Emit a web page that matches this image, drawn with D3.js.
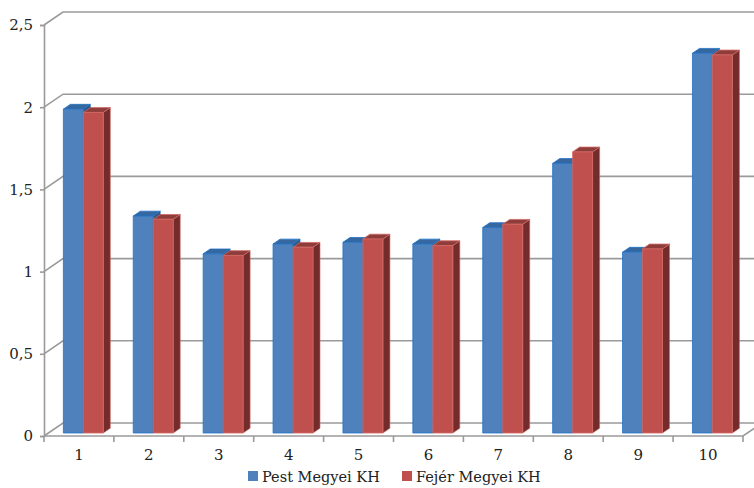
<!DOCTYPE html>
<html>
<head>
<meta charset="utf-8">
<script src="https://cdn.jsdelivr.net/npm/d3@7"></script>
<style>
  html, body { margin: 0; padding: 0; background: #fff; }
  svg { display: block; }
</style>
</head>
<body>
<svg id="chart" width="754" height="488"></svg>
<script>
// Data
const categories = ["1", "2", "3", "4", "5", "6", "7", "8", "9", "10"];
const seriesNames = ["Pest Megyei KH", "Fejér Megyei KH"];
const pestValues  = [1.97, 1.32, 1.09, 1.15, 1.16, 1.15, 1.25, 1.64, 1.10, 2.31];
const fejerValues = [1.95, 1.30, 1.08, 1.13, 1.18, 1.14, 1.27, 1.71, 1.12, 2.30];
const yTicks = [0, 0.5, 1, 1.5, 2, 2.5];
const yTickLabels = ["0", "0,5", "1", "1,5", "2", "2,5"];

const FONT = "'DejaVu Serif', 'Liberation Serif', 'Times New Roman', serif";

const svg = d3.select("#chart");

// Front plane scales
const x0 = d3.scaleBand().domain(categories).range([44, 743]).paddingInner(0).paddingOuter(0);
const x1 = d3.scaleBand().domain(seriesNames).range([0, x0.bandwidth()]).paddingOuter(0.75).paddingInner(0);
const y = d3.scaleLinear().domain([0, 2.5]).range([436, 25]);

// Depth projection: t = 0 front, t = 1 back wall
const DX = 19, DY = -13;
const P = (px, py, t) => [px + DX * t, py + DY * t];
const line = pts => "M" + pts.map(p => p.join(",")).join("L") + "Z";
const openLine = pts => "M" + pts.map(p => p.join(",")).join("L");

const gridColor = "#9a9a9a";
const walls = svg.append("g");

// Back wall and side wall gridlines
yTicks.forEach(v => {
  const yy = y(v);
  walls.append("path")
    .attr("d", openLine([[x0.range()[0], yy], P(x0.range()[0], yy, 1), P(x0.range()[1], yy, 1)]))
    .attr("fill", "none").attr("stroke", gridColor).attr("stroke-width", 1.6);
});

// Floor edges
walls.append("path")
  .attr("d", openLine([P(x0.range()[1], y(0), 1), [x0.range()[1], y(0)], [x0.range()[0], y(0)]]))
  .attr("fill", "none").attr("stroke", gridColor).attr("stroke-width", 1.6);

// Y axis (front left edge)
const yAxis = d3.axisLeft(y).tickValues(yTicks)
  .tickFormat((d, i) => yTickLabels[i]).tickSize(4).tickPadding(7);
const yg = svg.append("g").attr("transform", "translate(44,0)").call(yAxis);
yg.attr("font-family", null);
yg.select(".domain").attr("stroke", gridColor).attr("stroke-width", 1.6);
yg.selectAll(".tick line").attr("stroke", gridColor).attr("stroke-width", 1.6);
yg.selectAll(".tick text").style("font-family", FONT).style("font-size", "15px").attr("fill", "#222");

// X axis (front floor edge)
const xAxis = d3.axisBottom(x0).tickSize(0).tickPadding(13);
const xg = svg.append("g").attr("transform", `translate(0,${y(0)})`).call(xAxis);
xg.attr("font-family", null);
xg.select(".domain").remove();
xg.selectAll(".tick text").style("font-family", FONT).style("font-size", "15px").attr("fill", "#222");
// Category boundary tick marks
const bounds = d3.range(categories.length + 1).map(i => x0.range()[0] + i * x0.step());
xg.selectAll(".bound").data(bounds).join("line")
  .attr("x1", d => d).attr("x2", d => d).attr("y1", 0).attr("y2", 6)
  .attr("stroke", gridColor).attr("stroke-width", 1.6);

// 3D columns
const T0 = 0.23, T1 = 0.6;
const styles = {
  "Pest Megyei KH":  { front: "#4F81BD", top: "#36679f", side: "#2d5788", stroke: "#1f72c6" },
  "Fejér Megyei KH": { front: "#C0504D", top: "#8e3d3b", side: "#732c2b", stroke: "#d06865" }
};
const bars = [];
categories.forEach((c, i) => {
  bars.push({ cat: c, s: seriesNames[0], v: pestValues[i] });
  bars.push({ cat: c, s: seriesNames[1], v: fejerValues[i] });
});

const bg = svg.append("g");
bars.forEach(b => {
  const xl = x0(b.cat) + x1(b.s);
  const xr = xl + x1.bandwidth();
  const yb = y(0), yt = y(b.v);
  const st = styles[b.s];
  const g = bg.append("g");
  // right side face
  g.append("path")
    .attr("d", line([P(xr, yb, T0), P(xr, yb, T1), P(xr, yt, T1), P(xr, yt, T0)]))
    .attr("fill", st.side).attr("stroke", st.stroke).attr("stroke-width", 0.6);
  // top face
  g.append("path")
    .attr("d", line([P(xl, yt, T0), P(xl, yt, T1), P(xr, yt, T1), P(xr, yt, T0)]))
    .attr("fill", st.top).attr("stroke", st.stroke).attr("stroke-width", 0.8);
  // front face
  g.append("path")
    .attr("d", line([P(xl, yb, T0), P(xl, yt, T0), P(xr, yt, T0), P(xr, yb, T0)]))
    .attr("fill", st.front).attr("stroke", st.stroke).attr("stroke-width", 0.8);
});

// Legend
const legend = svg.append("g");
const legendItems = [
  { name: seriesNames[0], x: 248 },
  { name: seriesNames[1], x: 402 }
];
legendItems.forEach(d => {
  legend.append("rect").attr("x", d.x).attr("y", 471).attr("width", 10).attr("height", 10)
    .attr("fill", styles[d.name].front);
  legend.append("text").attr("x", d.x + 14).attr("y", 482)
    .style("font-family", FONT).style("font-size", "14.5px").attr("fill", "#222")
    .text(d.name);
});
</script>
</body>
</html>
